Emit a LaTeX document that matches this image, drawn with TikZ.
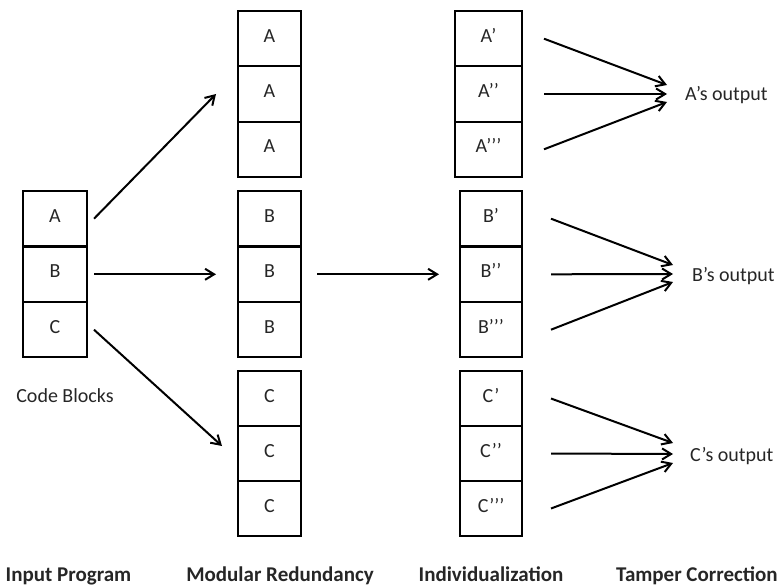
\documentclass[tikz,border=0pt]{standalone}
\usepackage{fontspec}
\setmainfont{Carlito}
\usepackage{tikz}
\usepackage{xcolor}
\definecolor{vizInk}{HTML}{262626}
\usetikzlibrary{arrows.meta}

\begin{document}
\begin{tikzpicture}[x=1pt, y=-1pt,
  blk/.style={draw=black, line width=2pt, minimum width=63pt, minimum height=55.5pt,
    inner sep=0pt, text height=13pt, text depth=6pt, text=vizInk,
    font=\fontsize{20}{24}\selectfont},
  lbl/.style={inner sep=0pt, text=vizInk, font=\fontsize{20}{24}\selectfont},
  title/.style={inner sep=0pt, text=vizInk, font=\fontsize{21}{25}\selectfont\bfseries},
  link/.style={draw=black, line width=2pt, -{Straight Barb[length=9pt,width=11pt]}}]
  \useasboundingbox (0,0) rectangle (780,586);
  % input program
  \node[blk, minimum width=64pt] (inA) at (55,218.7) {A};
  \node[blk, minimum width=64pt] (inB) at (55,274.3) {B};
  \node[blk, minimum width=64pt] (inC) at (55,329.7) {C};
  \node[lbl, anchor=base] (codeLbl) at (65,402) {Code Blocks};
  % modular redundancy
  \node[blk] (modA1) at (269.5,38.7) {A};
  \node[blk] (modA2) at (269.5,94) {A};
  \node[blk] (modA3) at (269.5,149.3) {A};
  \node[blk] (modB1) at (269.5,218.7) {B};
  \node[blk] (modB2) at (269.5,274.3) {B};
  \node[blk] (modB3) at (269.5,329.7) {B};
  \node[blk, minimum height=55pt] (modC1) at (269.5,398.5) {C};
  \node[blk, minimum height=55pt] (modC2) at (269.5,453.5) {C};
  \node[blk, minimum height=55pt] (modC3) at (269.5,508.5) {C};
  % individualization
  \node[blk, minimum width=67pt] (indA1) at (488.5,38.7) {A’};
  \node[blk, minimum width=67pt] (indA2) at (488.5,94) {A’’};
  \node[blk, minimum width=67pt] (indA3) at (488.5,149.3) {A’’’};
  \node[blk, minimum width=62pt] (indB1) at (491,218.7) {B’};
  \node[blk, minimum width=62pt] (indB2) at (491,274.3) {B’’};
  \node[blk, minimum width=62pt] (indB3) at (491,329.7) {B’’’};
  \node[blk, minimum width=62pt, minimum height=55pt] (indC1) at (491,398.5) {C’};
  \node[blk, minimum width=62pt, minimum height=55pt] (indC2) at (491,453.5) {C’’};
  \node[blk, minimum width=62pt, minimum height=55pt] (indC3) at (491,508.5) {C’’’};
  % tamper correction
  \coordinate (hubA) at (667,94);
  \coordinate (hubB) at (673,274);
  \coordinate (hubC) at (673,454);
  \node[lbl, anchor=base west] (outA) at (685,100) {A’s output};
  \node[lbl, anchor=base west] (outB) at (692,281.7) {B’s output};
  \node[lbl, anchor=base west] (outC) at (690,461) {C’s output};
  % connectors
  \draw[link] ([xshift=6pt]inA.east) -- ([xshift=-21pt]modA2.west);
  \draw[link] ([xshift=6pt]inB.east) -- ([xshift=-21pt]modB2.west);
  \draw[link] ([xshift=6pt]inC.east) -- ([xshift=-15pt,yshift=7.5pt]modC2.west);
  \draw[link] ([xshift=15pt]modB2.east) -- ([xshift=-20pt]indB2.west);
  \draw[link] ([xshift=21pt]indA1.east) -- ([yshift=9pt]hubA);
  \draw[link] ([xshift=21pt]indA2.east) -- (hubA);
  \draw[link] ([xshift=21pt]indA3.east) -- ([yshift=-8pt]hubA);
  \draw[link] ([xshift=28pt]indB1.east) -- ([yshift=9pt]hubB);
  \draw[link] ([xshift=28pt]indB2.east) -- (hubB);
  \draw[link] ([xshift=28pt]indB3.east) -- ([yshift=-8pt]hubB);
  \draw[link] ([xshift=28pt]indC1.east) -- ([yshift=11pt]hubC);
  \draw[link] ([xshift=28pt]indC2.east) -- (hubC);
  \draw[link] ([xshift=28pt]indC3.east) -- ([yshift=-9pt]hubC);
  % stage titles
  \node[title, anchor=base] (tInput) at (68.5,581) {Input Program};
  \node[title, anchor=base] (tModular) at (280,581) {Modular Redundancy};
  \node[title, anchor=base] (tIndiv) at (491,581) {Individualization};
  \node[title, anchor=base east] (tTamper) at (778,581) {Tamper Correction};
\end{tikzpicture}
\end{document}
